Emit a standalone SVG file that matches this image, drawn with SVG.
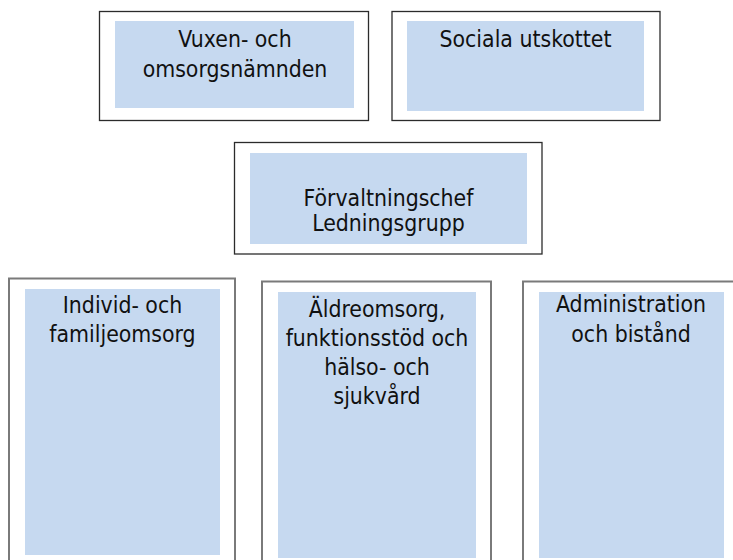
<svg xmlns="http://www.w3.org/2000/svg" width="733" height="560" viewBox="0 0 733 560">
<style>
.outer{fill:#ffffff;stroke:#2b2b2b;stroke-width:1.3}
.outerB{fill:#ffffff;stroke:#7a7a7a;stroke-width:2}
.inner{fill:#c6d9f0;stroke:none}
text{font-family:"DejaVu Sans Condensed","DejaVu Sans",sans-serif;font-stretch:condensed;font-size:22.8px;fill:#111111;text-anchor:middle}
</style>
<rect x="0" y="0" width="733" height="560" fill="#ffffff"/>
<g id="connectors"/>
<g id="node-vuxen">
<rect class="outer" x="99.5" y="11.5" width="269" height="109"/>
<rect class="inner" x="115" y="21" width="239" height="87"/>
<text x="235" y="46.5">Vuxen- och</text>
<text x="235" y="76.5">omsorgsnämnden</text>
</g>
<g id="node-sociala">
<rect class="outer" x="392" y="11.5" width="268" height="109"/>
<rect class="inner" x="407" y="21" width="237" height="90"/>
<text x="525.5" y="46.5">Sociala utskottet</text>
</g>
<g id="node-forvaltningschef">
<rect class="outer" x="234.5" y="142.5" width="307.5" height="111.5"/>
<rect class="inner" x="250" y="153" width="277" height="91"/>
<text x="388.5" y="206">Förvaltningschef</text>
<text x="388.5" y="231">Ledningsgrupp</text>
</g>
<g id="node-individ">
<rect class="outerB" x="9" y="278.5" width="226" height="290"/>
<rect class="inner" x="25" y="289" width="195" height="266"/>
<text x="122.5" y="313">Individ- och</text>
<text x="122.5" y="342">familjeomsorg</text>
</g>
<g id="node-aldreomsorg">
<rect class="outerB" x="262" y="281.5" width="229" height="290"/>
<rect class="inner" x="278" y="292" width="198" height="266"/>
<text x="377" y="316.5">Äldreomsorg,</text>
<text x="377" y="346">funktionsstöd och</text>
<text x="377" y="375">hälso- och</text>
<text x="377" y="403.5">sjukvård</text>
</g>
<g id="node-administration">
<rect class="outerB" x="523" y="281.5" width="216" height="290"/>
<rect class="inner" x="539" y="292" width="185" height="266"/>
<text x="631" y="312">Administration</text>
<text x="631" y="342">och bistånd</text>
</g>
</svg>
